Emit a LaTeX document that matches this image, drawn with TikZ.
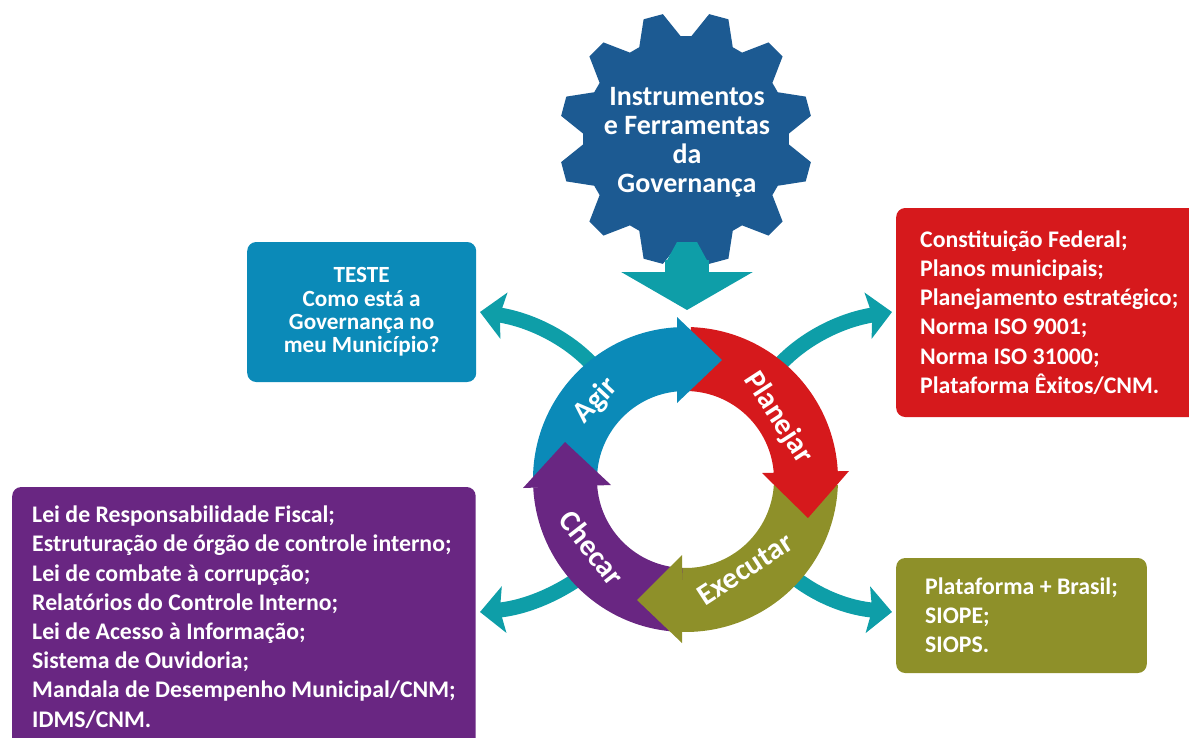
\documentclass[tikz,border=0pt]{standalone}
\usepackage{fontspec}
\setmainfont{Carlito}
\usetikzlibrary{arrows.meta, positioning, calc}
\definecolor{gearblue}{HTML}{1C5A92}
\definecolor{linkteal}{HTML}{0E9EA8}
\definecolor{agirblue}{HTML}{0B8AB8}
\definecolor{planred}{HTML}{D6191C}
\definecolor{execolive}{HTML}{8E9029}
\definecolor{checpurple}{HTML}{692682}
\tikzstyle{box} = [rounded corners=9pt, anchor=west, inner ysep=0pt, inner xsep=20pt, text=white, font=\bfseries\fontsize{23.8}{29.2}\selectfont, align=flush left]
\tikzstyle{link} = [draw=linkteal, line width=15pt, -{Stealth[length=24pt, width=46pt, inset=4pt, fill=linkteal]}]
\tikzstyle{steplabel} = [text=white, font=\bfseries\fontsize{30}{30}\selectfont]

\begin{document}
\begin{tikzpicture}[x=1pt, y=-1pt]
	\useasboundingbox (0,0) rectangle (1189,737);
	\clip (0,0) rectangle (1189,737);
	\coordinate (ringc) at (685.5,479.5);
	\coordinate (gearfoot) at (687,260);
	\coordinate (ringtop) at (687,310);

	% gear
	\fill [gearblue, shift={(686,139)}] (3:103)
		\foreach \t in {15,45,...,345} { -- (\t-12:103) -- (\t-4.5:127) -- (\t+4.5:127) -- (\t+12:103) } -- cycle;
	\node [text=white, align=flush center, font=\bfseries\fontsize{28}{29}\selectfont] (gear) at (687,142.5) {Instrumentos\\e Ferramentas\\da\\Governança};

	% boxes
	\node [box, fill=planred, minimum height=209pt, inner xsep=24pt] (plan) at (896,312.5) {Constituição Federal;\\Planos municipais;\\Planejamento estratégico;\\Norma ISO 9001;\\Norma ISO 31000;\\Plataforma Êxitos/CNM.};
	\node [box, fill=agirblue, minimum height=140pt, minimum width=229pt, align=flush center, font=\bfseries\fontsize{23.2}{23.4}\selectfont] (teste) at (247,312) {TESTE\\Como está a\\Governança no\\meu Município?};
	\node [box, fill=checpurple, minimum height=260pt, minimum width=463pt] (chec) at (12,617) {Lei de Responsabilidade Fiscal;\\Estruturação de órgão de controle interno;\\Lei de combate à corrupção;\\Relatórios do Controle Interno;\\Lei de Acesso à Informação;\\Sistema de Ouvidoria;\\Mandala de Desempenho Municipal/CNM;\\IDMS/CNM.};
	\node [box, fill=execolive, minimum height=115pt, inner xsep=29pt] (exec) at (896,615.5) {Plataforma + Brasil;\\SIOPE;\\SIOPS.};

	% arrows
	\coordinate (planend) at (892,312);
	\coordinate (testeend) at (480,312);
	\coordinate (checend) at (480,612);
	\coordinate (execend) at (892,612);
	\coordinate (planstart) at (775,370);
	\coordinate (testestart) at (597,370);
	\coordinate (checstart) at (590,570);
	\coordinate (execstart) at (780,565);
	\draw [link] (planstart) .. controls (800,340) and (840,320) .. (planend);
	\draw [link] (testestart) .. controls (572,340) and (532,320) .. (testeend);
	\draw [link] (checstart) .. controls (565,590) and (530,607) .. (checend);
	\draw [link] (execstart) .. controls (805,590) and (840,607) .. (execend);
	\fill [linkteal] (677,242) -- (697,242) -- (709,264) -- (665,264) -- cycle;
	\draw [draw=linkteal, line width=44pt, -{Triangle[length=38pt, width=130pt, fill=linkteal]}] (gearfoot) -- (ringtop);

	% ring
	\foreach \a/\b/\c in {178/268/agirblue, 272/360/planred, 2/93/execolive, 92/177/checpurple} {
		\fill [\c] (ringc) ++(\a:152.5) arc [start angle=\a, end angle=\b, radius=152.5]
			-- ($(ringc)+(\b:88.5)$) arc [start angle=\b, end angle=\a, radius=88.5] -- cycle;
	}
	\fill [agirblue] (677,317) -- (722,360) -- (677,403) -- cycle;
	\fill [planred] (762,473) -- (849,471) -- (808,518) -- cycle;
	\fill [execolive] (682,555) -- (637,600) -- (682,643) -- cycle;
	\fill [checpurple] (523,488) -- (565,442) -- (611,485) -- cycle;

	\node [steplabel, rotate=47] (agir) at (596,401) {Agir};
	\node [steplabel, rotate=-57] (planejar) at (778,418) {Planejar};
	\node [steplabel, rotate=33] (executar) at (745,569) {Executar};
	\node [steplabel, rotate=-52] (checar) at (592,548) {Checar};
\end{tikzpicture}
\end{document}
